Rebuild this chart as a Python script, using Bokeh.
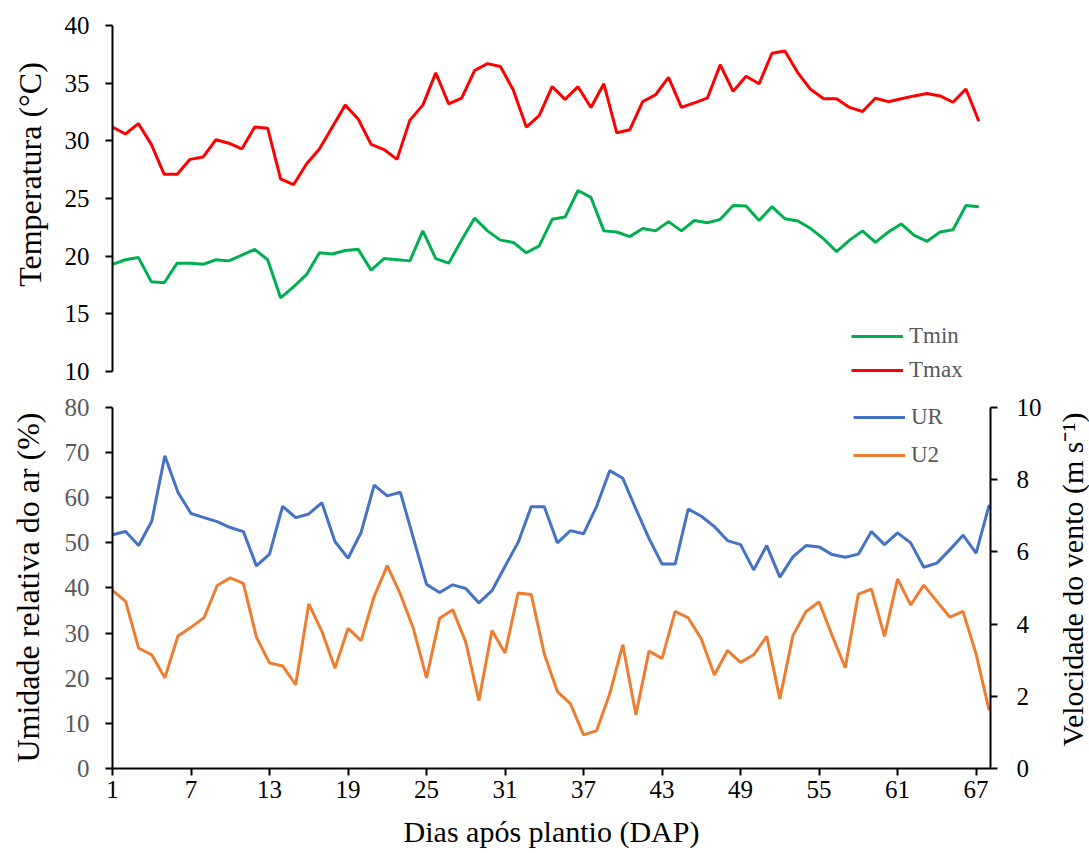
import math
from bokeh.plotting import figure
from bokeh.models import Range1d, LinearAxis, FixedTicker, Legend, LegendItem
from bokeh.core.properties import value
from bokeh.layouts import column, row
from bokeh.embed import file_html
from bokeh.resources import INLINE

# ---------------- data ----------------
days = list(range(1, 69))
tmin = [19.3, 19.7, 19.9, 17.8, 17.7, 19.4, 19.4, 19.3, 19.7, 19.6,
        20.1, 20.6, 19.7, 16.4, 17.35, 18.4, 20.3, 20.2, 20.5, 20.6,
        18.8, 19.8, 19.7, 19.6, 22.2, 19.8, 19.4, 21.4, 23.3, 22.2,
        21.4, 21.2, 20.3, 20.9, 23.2, 23.4, 25.7, 25.1, 22.2, 22.1,
        21.7, 22.4, 22.2, 23.0, 22.2, 23.1, 22.9, 23.2, 24.4, 24.35,
        23.1, 24.3, 23.25, 23.05, 22.4, 21.5, 20.4, 21.4, 22.2, 21.2,
        22.1, 22.8, 21.8, 21.3, 22.1, 22.3, 24.4, 24.3]
tmax = [31.2, 30.6, 31.5, 29.7, 27.1, 27.1, 28.4, 28.6, 30.1, 29.8,
        29.3, 31.2, 31.1, 26.7, 26.2, 28.0, 29.3, 31.2, 33.1, 31.9,
        29.7, 29.25, 28.4, 31.8, 33.1, 35.9, 33.2, 33.7, 36.1, 36.7,
        36.45, 34.4, 31.2, 32.2, 34.7, 33.6, 34.7, 32.9, 34.95, 30.7,
        30.96, 33.4, 34.0, 35.5, 32.9, 33.3, 33.7, 36.6, 34.3, 35.6,
        34.95, 37.6, 37.8, 35.9, 34.45, 33.65, 33.65, 32.9, 32.55, 33.7,
        33.4, 33.65, 33.9, 34.1, 33.9, 33.35, 34.5, 31.7]
ur = [51.8, 52.5, 49.4, 54.8, 69.3, 61.2, 56.5, 55.6, 54.7, 53.4,
      52.5, 44.9, 47.5, 58.1, 55.6, 56.4, 58.9, 50.3, 46.6, 52.3,
      62.8, 60.4, 61.2, 51.0, 40.8, 39.0, 40.7, 39.9, 36.7, 39.4,
      44.8, 50.1, 58.0, 58.0, 50.0, 52.7, 52.0, 58.1, 66.0, 64.3,
      57.5, 51.0, 45.3, 45.3, 57.5, 55.9, 53.6, 50.5, 49.6, 44.0,
      49.4, 42.4, 46.9, 49.4, 49.1, 47.4, 46.8, 47.5, 52.5, 49.6,
      52.2, 50.0, 44.6, 45.5, 48.5, 51.7, 47.7, 58.4]
u2 = [4.93, 4.63, 3.33, 3.15, 2.51, 3.67, 3.91, 4.18, 5.07, 5.28,
      5.13, 3.64, 2.92, 2.84, 2.32, 4.56, 3.80, 2.78, 3.88, 3.54,
      4.77, 5.62, 4.83, 3.87, 2.51, 4.16, 4.40, 3.50, 1.88, 3.82,
      3.20, 4.86, 4.82, 3.17, 2.13, 1.79, 0.93, 1.05, 2.07, 3.43,
      1.49, 3.25, 3.05, 4.35, 4.17, 3.59, 2.59, 3.27, 2.94, 3.15,
      3.66, 1.93, 3.68, 4.35, 4.61, 3.68, 2.79, 4.83, 4.97, 3.66,
      5.25, 4.53, 5.08, 4.63, 4.19, 4.35, 3.17, 1.61]

x_ticks = [1, 7, 13, 19, 25, 31, 37, 43, 49, 55, 61, 67]
temp_ticks = [10, 15, 20, 25, 30, 35, 40]
ur_ticks = [0, 10, 20, 30, 40, 50, 60, 70, 80]
wind_ticks = [0, 2, 4, 6, 8, 10]
temp_title = "Temperatura (°C)"
ur_title = "Umidade relativa do ar (%)"
wind_title = "Velocidade do vento (m s\u207b\u00b9)"
x_title = "Dias após plantio (DAP)"

FONT = "Liberation Serif"
GREEN, RED, BLUE, ORANGE = "#00B050", "#FF0000", "#4472C4", "#ED7D31"


def style_axis(ax, label_color="black", title_size="32px", standoff=16, title_standoff=17):
    ax.axis_line_color = "black"
    ax.axis_line_width = 2
    ax.major_tick_line_color = "black"
    ax.major_tick_line_width = 2
    ax.major_tick_out = 7
    ax.major_tick_in = 0
    ax.minor_tick_line_color = None
    ax.major_label_text_font = FONT
    ax.major_label_text_font_size = "25px"
    ax.major_label_text_color = label_color
    ax.major_label_standoff = standoff
    ax.axis_label_text_font = FONT
    ax.axis_label_text_font_size = title_size
    ax.axis_label_text_font_style = "normal"
    ax.axis_label_text_color = "black"
    ax.axis_label_standoff = title_standoff


def style_legend(leg, gap):
    leg.border_line_color = None
    leg.background_fill_alpha = 0
    leg.padding = 0
    leg.margin = 0
    leg.spacing = gap
    leg.glyph_width = 52
    leg.glyph_height = 20
    leg.label_height = 20
    leg.label_standoff = 6
    leg.label_text_font = FONT
    leg.label_text_font_size = "23px"
    leg.label_text_color = "#595959"


def strip(width, height):
    s = figure(width=width, height=height, x_range=Range1d(0, width), y_range=Range1d(0, height),
               output_backend="svg", toolbar_location=None, min_border=0,
               x_axis_location=None, y_axis_location=None)
    s.outline_line_color = None
    s.xgrid.visible = False
    s.ygrid.visible = False
    return s


LEFT_STRIP, RIGHT_STRIP = 50, 35
W = 1089 - LEFT_STRIP - RIGHT_STRIP
H_TOP, H_BOT = 389, 463
H_ALL = H_TOP + H_BOT

# ---------------- top panel: temperature ----------------
p1 = figure(width=W, height=H_TOP, x_range=Range1d(1, 68.9), y_range=Range1d(8.45, 42.17),
            output_backend="svg", toolbar_location=None, x_axis_location=None,
            min_border_left=112 - LEFT_STRIP, min_border_right=64,
            min_border_top=0, min_border_bottom=0)
p1.outline_line_color = None
p1.xgrid.visible = False
p1.ygrid.visible = False
p1.yaxis.ticker = FixedTicker(ticks=temp_ticks)
p1.yaxis.bounds = (10, 40)
style_axis(p1.yaxis[0])

r_tmin = p1.line(days, tmin, line_color=GREEN, line_width=3)
r_tmax = p1.line(days, tmax, line_color=RED, line_width=3)

leg1 = Legend(items=[LegendItem(label="Tmin", renderers=[r_tmin]),
                     LegendItem(label="Tmax", renderers=[r_tmax])],
              location=(739, 6))
style_legend(leg1, 8)
p1.add_layout(leg1)

# ---------------- bottom panel: humidity + wind ----------------
p2 = figure(width=W, height=H_BOT, x_range=Range1d(1, 68.1), y_range=Range1d(0, 83.98),
            output_backend="svg", toolbar_location=None,
            min_border_left=112 - LEFT_STRIP, min_border_right=64,
            min_border_top=0, min_border_bottom=84)
p2.outline_line_color = None
p2.xgrid.visible = False
p2.ygrid.visible = False
p2.extra_y_ranges = {"wind": Range1d(0, 10.498)}

p2.yaxis.ticker = FixedTicker(ticks=ur_ticks)
p2.yaxis.bounds = (0, 80)
style_axis(p2.yaxis[0], label_color="#595959")

p2.xaxis.ticker = FixedTicker(ticks=x_ticks)
p2.xaxis.axis_label = x_title
style_axis(p2.xaxis[0], title_size="30px", standoff=5, title_standoff=14)

ax_r = LinearAxis(y_range_name="wind", ticker=FixedTicker(ticks=wind_ticks), bounds=(0, 10))
style_axis(ax_r, standoff=19)
p2.add_layout(ax_r, "right")

r_ur = p2.line(days, ur, line_color=BLUE, line_width=3)
r_u2 = p2.line(days, u2, line_color=ORANGE, line_width=3, y_range_name="wind")

leg2 = Legend(items=[LegendItem(label="UR", renderers=[r_ur]),
                     LegendItem(label="U2", renderers=[r_u2])],
              location=(741, 300))
style_legend(leg2, 12)
p2.add_layout(leg2)

# ---------------- side strips holding the rotated axis titles ----------------
p0 = strip(LEFT_STRIP, H_ALL)
p0.text(x=[29, 27], y=[H_ALL - 174, H_ALL - 587], text=[temp_title, ur_title],
        angle=math.pi / 2, text_align="center", text_baseline="middle",
        text_font=value(FONT), text_font_size="32px", text_color="black")

p3 = strip(RIGHT_STRIP, H_ALL)
p3.text(x=[18], y=[H_ALL - 579], text=[wind_title], angle=math.pi / 2,
        text_align="center", text_baseline="middle", text_font=value(FONT),
        text_font_size="30px", text_color="black")

layout = row(p0, column(p1, p2, spacing=0), p3, spacing=0)
open("out.html", "w").write(file_html(layout, INLINE))
